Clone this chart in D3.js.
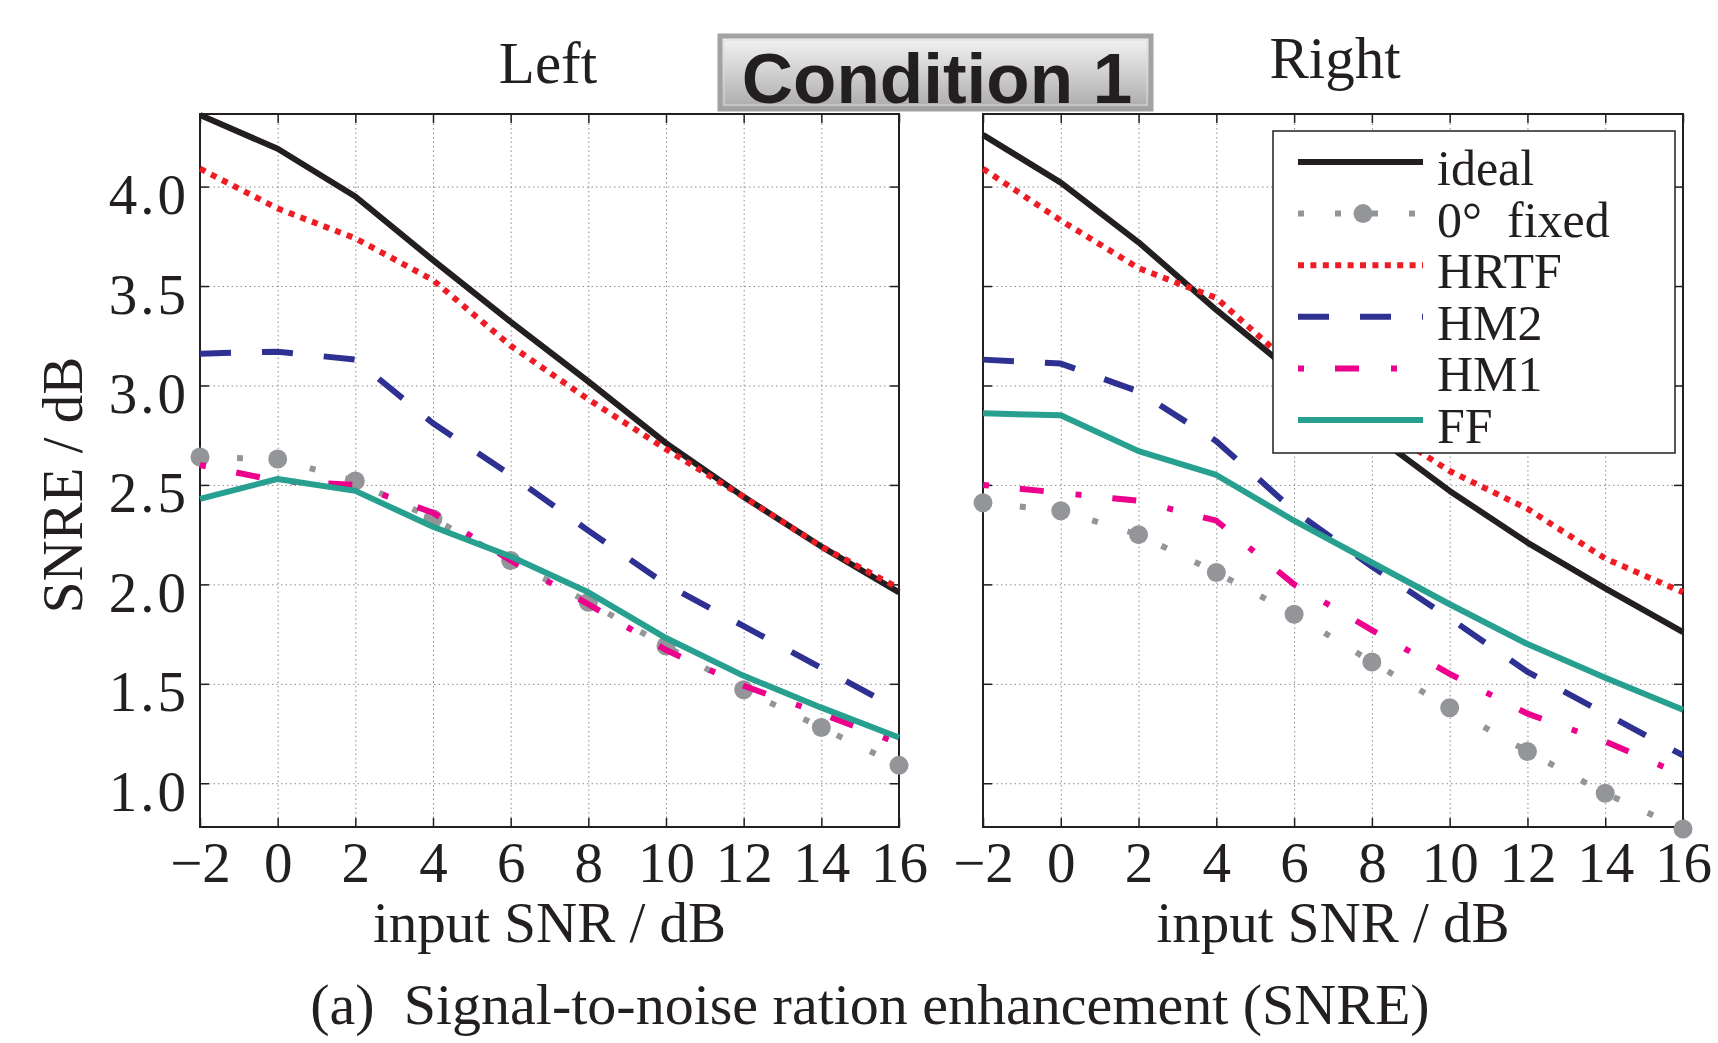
<!DOCTYPE html>
<html>
<head>
<meta charset="utf-8">
<script src="https://cdn.jsdelivr.net/npm/d3@7"></script>
<style>
  body { margin: 0; background: #fff; }
  svg { display: block; }
</style>
</head>
<body>
<svg id="chart" width="1718" height="1043"></svg>
<script>
// input SNR / dB (x values)
var snrIn = [-2, 0, 2, 4, 6, 8, 10, 12, 14, 16];
var yTickVals = [1.0, 1.5, 2.0, 2.5, 3.0, 3.5, 4.0];
var seriesNames = ["ideal", "0\u00b0  fixed", "HRTF", "HM2", "HM1", "FF"];

// SNRE / dB, left ear
var leftIdeal = [4.36, 4.19, 3.95, 3.63, 3.32, 3.02, 2.71, 2.44, 2.19, 1.96];
var leftFixed = [2.64, 2.63, 2.52, 2.33, 2.12, 1.91, 1.69, 1.47, 1.28, 1.09];
var leftHRTF  = [4.09, 3.89, 3.74, 3.53, 3.20, 2.93, 2.68, 2.44, 2.19, 1.98];
var leftHM2   = [3.16, 3.17, 3.13, 2.81, 2.55, 2.27, 2.00, 1.79, 1.58, 1.37];
var leftHM1   = [2.60, 2.52, 2.50, 2.36, 2.12, 1.90, 1.67, 1.49, 1.35, 1.20];
var leftFF    = [2.43, 2.53, 2.47, 2.29, 2.14, 1.96, 1.73, 1.54, 1.38, 1.23];

// SNRE / dB, right ear
var rightIdeal = [4.26, 4.02, 3.72, 3.38, 3.06, 2.76, 2.47, 2.21, 1.98, 1.76];
var rightFixed = [2.41, 2.37, 2.25, 2.06, 1.85, 1.61, 1.38, 1.16, 0.95, 0.77];
var rightHRTF  = [4.09, 3.83, 3.59, 3.44, 3.09, 2.82, 2.57, 2.38, 2.13, 1.96];
var rightHM2   = [3.13, 3.11, 2.97, 2.72, 2.37, 2.09, 1.83, 1.56, 1.35, 1.14];
var rightHM1   = [2.50, 2.46, 2.42, 2.32, 2.00, 1.77, 1.55, 1.35, 1.21, 1.04];
var rightFF    = [2.86, 2.85, 2.67, 2.55, 2.32, 2.11, 1.90, 1.70, 1.53, 1.37];

// line styles, same order as seriesNames
var styles = [
  {color: "#231f20", dash: null},
  {color: "#939598", dash: "6,31", marker: true},
  {color: "#ee1c25", dash: "6,6.4"},
  {color: "#2e3192", dash: "31,31"},
  {color: "#ec008c", dash: "6,31,24,32"},
  {color: "#27a08f", dash: null}
];

var serif = "'Liberation Serif', 'Times New Roman', serif";
var svg = d3.select("#chart");

var plotTop = 114, plotBottom = 827;
var y = d3.scaleLinear().domain([0.78, 4.365]).range([plotBottom, plotTop]);

var panels = [
  {title: "Left",  tx: 548,  ty: 83, x0: 200, x1: 899,
   data: [leftIdeal, leftFixed, leftHRTF, leftHM2, leftHM1, leftFF], yLabels: true},
  {title: "Right", tx: 1335, ty: 78, x0: 983, x1: 1683,
   data: [rightIdeal, rightFixed, rightHRTF, rightHM2, rightHM1, rightFF], yLabels: false}
];

panels.forEach(function(p) {
  var x = d3.scaleLinear().domain([-2, 16]).range([p.x0, p.x1]);
  var g = svg.append("g");

  // dotted grid
  var grid = g.append("g");
  grid.append("g")
    .attr("transform", "translate(0," + plotBottom + ")")
    .call(d3.axisBottom(x).tickValues(snrIn).tickSize(-(plotBottom - plotTop)).tickFormat(""))
    .call(function(a) { a.select(".domain").remove(); });
  grid.append("g")
    .attr("transform", "translate(" + p.x0 + ",0)")
    .call(d3.axisLeft(y).tickValues(yTickVals).tickSize(-(p.x1 - p.x0)).tickFormat(""))
    .call(function(a) { a.select(".domain").remove(); });
  grid.selectAll(".tick line")
    .attr("stroke", "#8a8a8a")
    .attr("stroke-width", 1)
    .attr("stroke-dasharray", "1.5,3");

  // box with inward ticks
  g.append("rect")
    .attr("x", p.x0).attr("y", plotTop)
    .attr("width", p.x1 - p.x0).attr("height", plotBottom - plotTop)
    .attr("fill", "none").attr("stroke", "#231f20").attr("stroke-width", 2);

  var tickAxes = [
    {ax: d3.axisBottom(x).tickValues(snrIn), tr: "translate(0," + plotBottom + ")"},
    {ax: d3.axisTop(x).tickValues(snrIn), tr: "translate(0," + plotTop + ")"},
    {ax: d3.axisLeft(y).tickValues(yTickVals), tr: "translate(" + p.x0 + ",0)"},
    {ax: d3.axisRight(y).tickValues(yTickVals), tr: "translate(" + p.x1 + ",0)"}
  ];
  tickAxes.forEach(function(t) {
    g.append("g").attr("transform", t.tr)
      .call(t.ax.tickSize(-9).tickFormat(""))
      .call(function(a) { a.select(".domain").remove(); })
      .selectAll(".tick line").attr("stroke", "#231f20").attr("stroke-width", 1.5);
  });

  // x tick labels
  var xl = g.append("g")
    .attr("transform", "translate(0," + plotBottom + ")")
    .call(d3.axisBottom(x).tickValues(snrIn).tickSize(0).tickFormat(d3.format("d")));
  xl.select(".domain").remove();
  xl.selectAll("text")
    .attr("y", 55).attr("dy", 0)
    .attr("font-family", serif).attr("font-size", 57).attr("fill", "#231f20");

  if (p.yLabels) {
    var yl = g.append("g")
      .attr("transform", "translate(" + p.x0 + ",0)")
      .call(d3.axisLeft(y).tickValues(yTickVals).tickSize(0).tickPadding(11).tickFormat(d3.format(".1f")));
    yl.select(".domain").remove();
    yl.selectAll("text")
      .attr("dy", 27)
      .attr("letter-spacing", 3)
      .attr("font-family", serif).attr("font-size", 57).attr("fill", "#231f20");
  }

  // series
  var line = d3.line()
    .x(function(d, i) { return x(snrIn[i]); })
    .y(function(d) { return y(d); });

  p.data.forEach(function(vals, k) {
    var s = styles[k];
    g.append("path")
      .datum(vals)
      .attr("d", line)
      .attr("fill", "none")
      .attr("stroke", s.color)
      .attr("stroke-width", 6)
      .attr("stroke-linejoin", "round")
      .attr("stroke-dasharray", s.dash);
    if (s.marker) {
      g.selectAll(null)
        .data(vals)
        .enter().append("circle")
        .attr("cx", function(d, i) { return x(snrIn[i]); })
        .attr("cy", function(d) { return y(d); })
        .attr("r", 9.5)
        .attr("fill", s.color);
    }
  });

  // panel title and x axis title
  svg.append("text")
    .attr("x", p.tx).attr("y", p.ty)
    .attr("text-anchor", "middle")
    .attr("font-family", serif).attr("font-size", 59).attr("fill", "#231f20")
    .text(p.title);
  svg.append("text")
    .attr("x", (p.x0 + p.x1) / 2).attr("y", 942)
    .attr("text-anchor", "middle")
    .attr("font-family", serif).attr("font-size", 57).attr("fill", "#231f20")
    .text("input SNR / dB");
});

// y axis title
svg.append("text")
  .attr("transform", "translate(82,485) rotate(-90)")
  .attr("text-anchor", "middle")
  .attr("font-family", serif).attr("font-size", 57).attr("fill", "#231f20")
  .text("SNRE / dB");

// legend (right panel)
var lg = svg.append("g");
lg.append("rect")
  .attr("x", 1273).attr("y", 131).attr("width", 402).attr("height", 322)
  .attr("fill", "#fff").attr("stroke", "#231f20").attr("stroke-width", 1.5);
seriesNames.forEach(function(name, k) {
  var s = styles[k];
  var ly = 162 + k * 51.6;
  lg.append("line")
    .attr("x1", 1298).attr("x2", 1423).attr("y1", ly).attr("y2", ly)
    .attr("stroke", s.color).attr("stroke-width", 6)
    .attr("stroke-dasharray", s.dash);
  if (s.marker) {
    lg.append("circle").attr("cx", 1363).attr("cy", ly).attr("r", 9.5).attr("fill", s.color);
  }
  lg.append("text")
    .attr("x", 1437).attr("y", ly + 23)
    .attr("font-family", serif).attr("font-size", 50).attr("fill", "#231f20")
    .style("white-space", "pre")
    .text(name);
});

// "Condition 1" badge
var defs = svg.append("defs");
var grad = defs.append("linearGradient").attr("id", "badge").attr("x1", 0).attr("x2", 0).attr("y1", 0).attr("y2", 1);
grad.append("stop").attr("offset", "0%").attr("stop-color", "#f5f5f5");
grad.append("stop").attr("offset", "100%").attr("stop-color", "#ababab");
svg.append("rect")
  .attr("x", 720).attr("y", 36).attr("width", 431).attr("height", 73)
  .attr("fill", "url(#badge)").attr("stroke", "#a2a2a2").attr("stroke-width", 5);
svg.append("rect")
  .attr("x", 724).attr("y", 40).attr("width", 423).attr("height", 65)
  .attr("fill", "none").attr("stroke", "#dcdcdc").attr("stroke-width", 1);
svg.append("text")
  .attr("x", 937).attr("y", 103)
  .attr("text-anchor", "middle")
  .attr("font-family", "'Liberation Sans', Arial, sans-serif").attr("font-weight", "bold")
  .attr("font-size", 71).attr("fill", "#231f20")
  .text("Condition 1");

// caption
svg.append("text")
  .attr("x", 870).attr("y", 1024)
  .attr("text-anchor", "middle")
  .attr("font-family", serif).attr("font-size", 58).attr("fill", "#231f20")
  .style("white-space", "pre")
  .text("(a)  Signal-to-noise ration enhancement (SNRE)");
</script>
</body>
</html>
